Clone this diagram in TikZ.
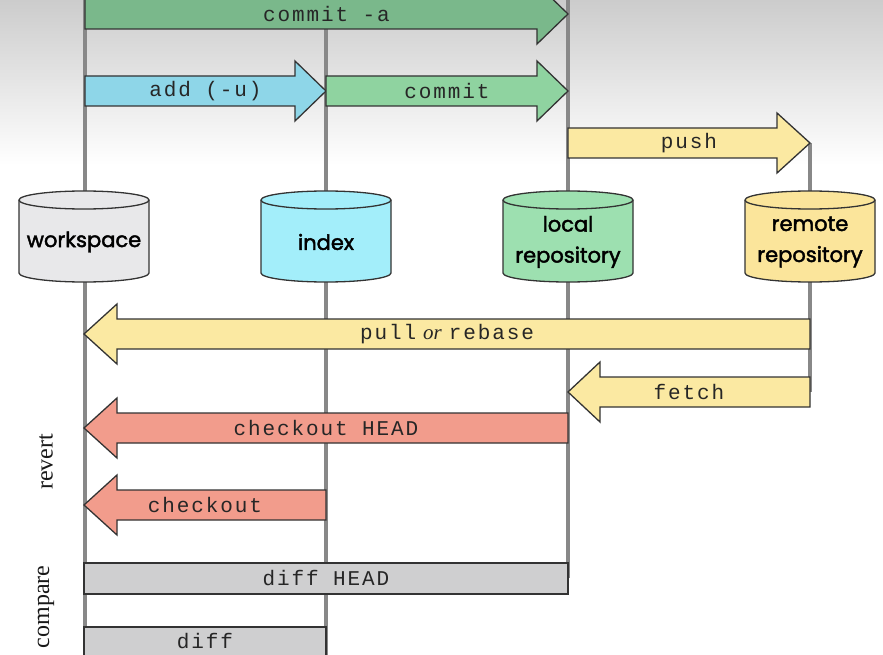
\documentclass[tikz,border=0pt]{standalone}
\usepackage{fontspec}
\setmainfont{Liberation Serif}
\newfontfamily\monofnt{Liberation Mono}[LetterSpace=9]
\newfontfamily\cylfnt{Poppins}[FakeBold=2]
\definecolor{outline}{HTML}{333333}
\definecolor{linegray}{HTML}{888888}
\definecolor{greenA}{HTML}{7AB88B}
\definecolor{greenB}{HTML}{8FD3A0}
\definecolor{addblue}{HTML}{8ED6E8}
\definecolor{yel}{HTML}{FBE9A2}
\definecolor{salmon}{HTML}{F29C8C}
\definecolor{diffgray}{HTML}{CFCFD0}
\definecolor{wsfill}{HTML}{E8E8EA}
\definecolor{idxfill}{HTML}{A3EEFA}
\definecolor{locfill}{HTML}{9DE0B0}
\definecolor{remfill}{HTML}{FBE59B}
\newcommand{\RA}[7]{%
  \path[arrowshape, fill=#6] (#2,#5-15) -- (#3,#5-15) -- (#3,#5-30) -- (#4,#5)
    -- (#3,#5+30) -- (#3,#5+15) -- (#2,#5+15) -- cycle;
  \node[lbl] (#1) at ({(#2+#4)/2},#5) {#7};}
\newcommand{\LA}[7]{%
  \path[arrowshape, fill=#6] (#4,#5-15) -- (#3,#5-15) -- (#3,#5-30) -- (#2,#5)
    -- (#3,#5+30) -- (#3,#5+15) -- (#4,#5+15) -- cycle;
  \node[lbl] (#1) at ({(#2+#4)/2},#5) {#7};}
\newcommand{\CYL}[4]{%
  \path[cylshape, fill=#3] (#2-65,200) -- (#2-65,273) arc[start angle=180, end angle=0, x radius=65, y radius=9]
    -- (#2+65,200) arc[start angle=0, end angle=-180, x radius=65, y radius=9] -- cycle;
  \draw[cylshape] (#2-65,200) arc[start angle=180, end angle=0, x radius=65, y radius=9];
  \node[cyltext] (#1) at (#2,242) {#4};}
\begin{document}
\begin{tikzpicture}[x=1pt,y=-1pt,
  arrowshape/.style={draw=outline, line width=1.3pt, line join=miter},
  cylshape/.style={draw=outline, line width=1.3pt},
  lbl/.style={font=\monofnt\fontsize{21}{23}\selectfont, text=black!85, inner sep=0pt},
  cyltext/.style={font=\cylfnt\fontsize{21}{31}\selectfont, align=center, text=black, inner sep=0pt},
  side/.style={font=\fontsize{24}{26}\selectfont, rotate=90, text=black!90, inner sep=0pt},
  vline/.style={draw=linegray, line width=3.5pt}]
\useasboundingbox (0,0) rectangle (883,655);
\clip (0,0) rectangle (883,655);
% background
\fill[white] (0,0) rectangle (883,655);
\shade[top color=black!20, bottom color=white] (0,0) rectangle (883,165);
% vertical lines
\coordinate (l1t) at (85,0);   \coordinate (l1b) at (85,655);
\coordinate (l2t) at (326,0);  \coordinate (l2b) at (326,655);
\coordinate (l3t) at (568,0);  \coordinate (l3b) at (568,578);
\coordinate (l4t) at (810,143);\coordinate (l4b) at (810,392);
\draw[vline] (l1t) -- (l1b);
\draw[vline] (l2t) -- (l2b);
\draw[vline] (l3t) -- (l3b);
\draw[vline] (l4t) -- (l4b);
% cylinders
\CYL{ws}{84}{wsfill}{workspace}
\CYL{idx}{326}{idxfill}{index}
\CYL{loc}{568}{locfill}{local\\repository}
\CYL{rem}{810}{remfill}{remote\\repository}
% arrows
\RA{commita}{85}{537}{568}{14}{greenA}{commit -a}
\RA{add}{85}{295}{326}{91}{addblue}{add (-u)}
\RA{commit}{326}{537}{568}{91}{greenB}{commit}
\RA{push}{568}{777}{810}{143}{yel}{push}
\LA{pull}{84}{117}{810}{334}{yel}{pull\hspace{7pt}{\rmfamily\itshape or}\hspace{7pt}rebase}
\LA{fetch}{568}{600}{810}{392}{yel}{fetch}
\LA{cohead}{84}{117}{568}{428}{salmon}{checkout HEAD}
\LA{co}{84}{117}{326}{505}{salmon}{checkout}
\path[arrowshape, fill=diffgray] (84,563) rectangle (568,594);
\node[lbl] (diffhead) at (326,578.5) {diff HEAD};
\path[arrowshape, fill=diffgray] (84,627) rectangle (326,670);
\node[lbl] (diff) at (205,641) {diff};
% side labels
\node[side] (revert) at (46,462) {revert};
\node[side] (compare) at (46,607) {compare};
\end{tikzpicture}
\end{document}
